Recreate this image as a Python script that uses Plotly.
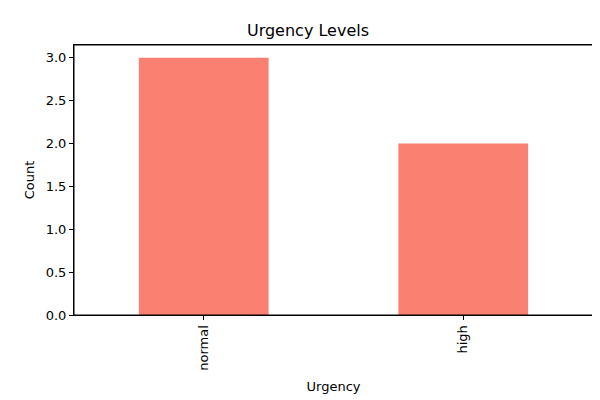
import plotly.graph_objects as go

urgency = ["normal", "high"]
counts = [3, 2]
y_ticks = [0.0, 0.5, 1.0, 1.5, 2.0, 2.5, 3.0]

fig = go.Figure(go.Bar(x=urgency, y=counts, marker=dict(color="salmon", line=dict(width=0)),
                       width=0.5))

axis_style = dict(showline=True, linecolor="black", linewidth=1, mirror=True,
                  ticks="outside", ticklen=4, tickcolor="black", showgrid=False,
                  zeroline=False, automargin=False, tickfont=dict(size=13, color="black"))

fig.update_layout(
    width=600, height=400,
    margin=dict(l=66, r=15, t=37, b=93),
    paper_bgcolor="white", plot_bgcolor="white",
    font=dict(family="DejaVu Sans", size=13, color="black"),
    title=dict(text="Urgency Levels", x=0.5, xanchor="center", y=0.945, yanchor="middle",
               font=dict(size=16)),
    showlegend=False,
)
# frame around the plot area
fig.add_shape(type="rect", xref="paper", yref="paper", x0=0, y0=0, x1=1, y1=1,
              line=dict(color="black", width=1), layer="above")
fig.update_xaxes(axis_style, range=[-0.5, 1.5], tickangle=-90,
                 title=dict(text="Urgency", standoff=12, font=dict(size=13)))
fig.update_yaxes(axis_style, range=[0, 3.15], tickvals=y_ticks,
                 ticktext=[f"{v:.1f}" for v in y_ticks],
                 title=dict(text="Count", standoff=8, font=dict(size=13)))

fig.write_html("out.html")
